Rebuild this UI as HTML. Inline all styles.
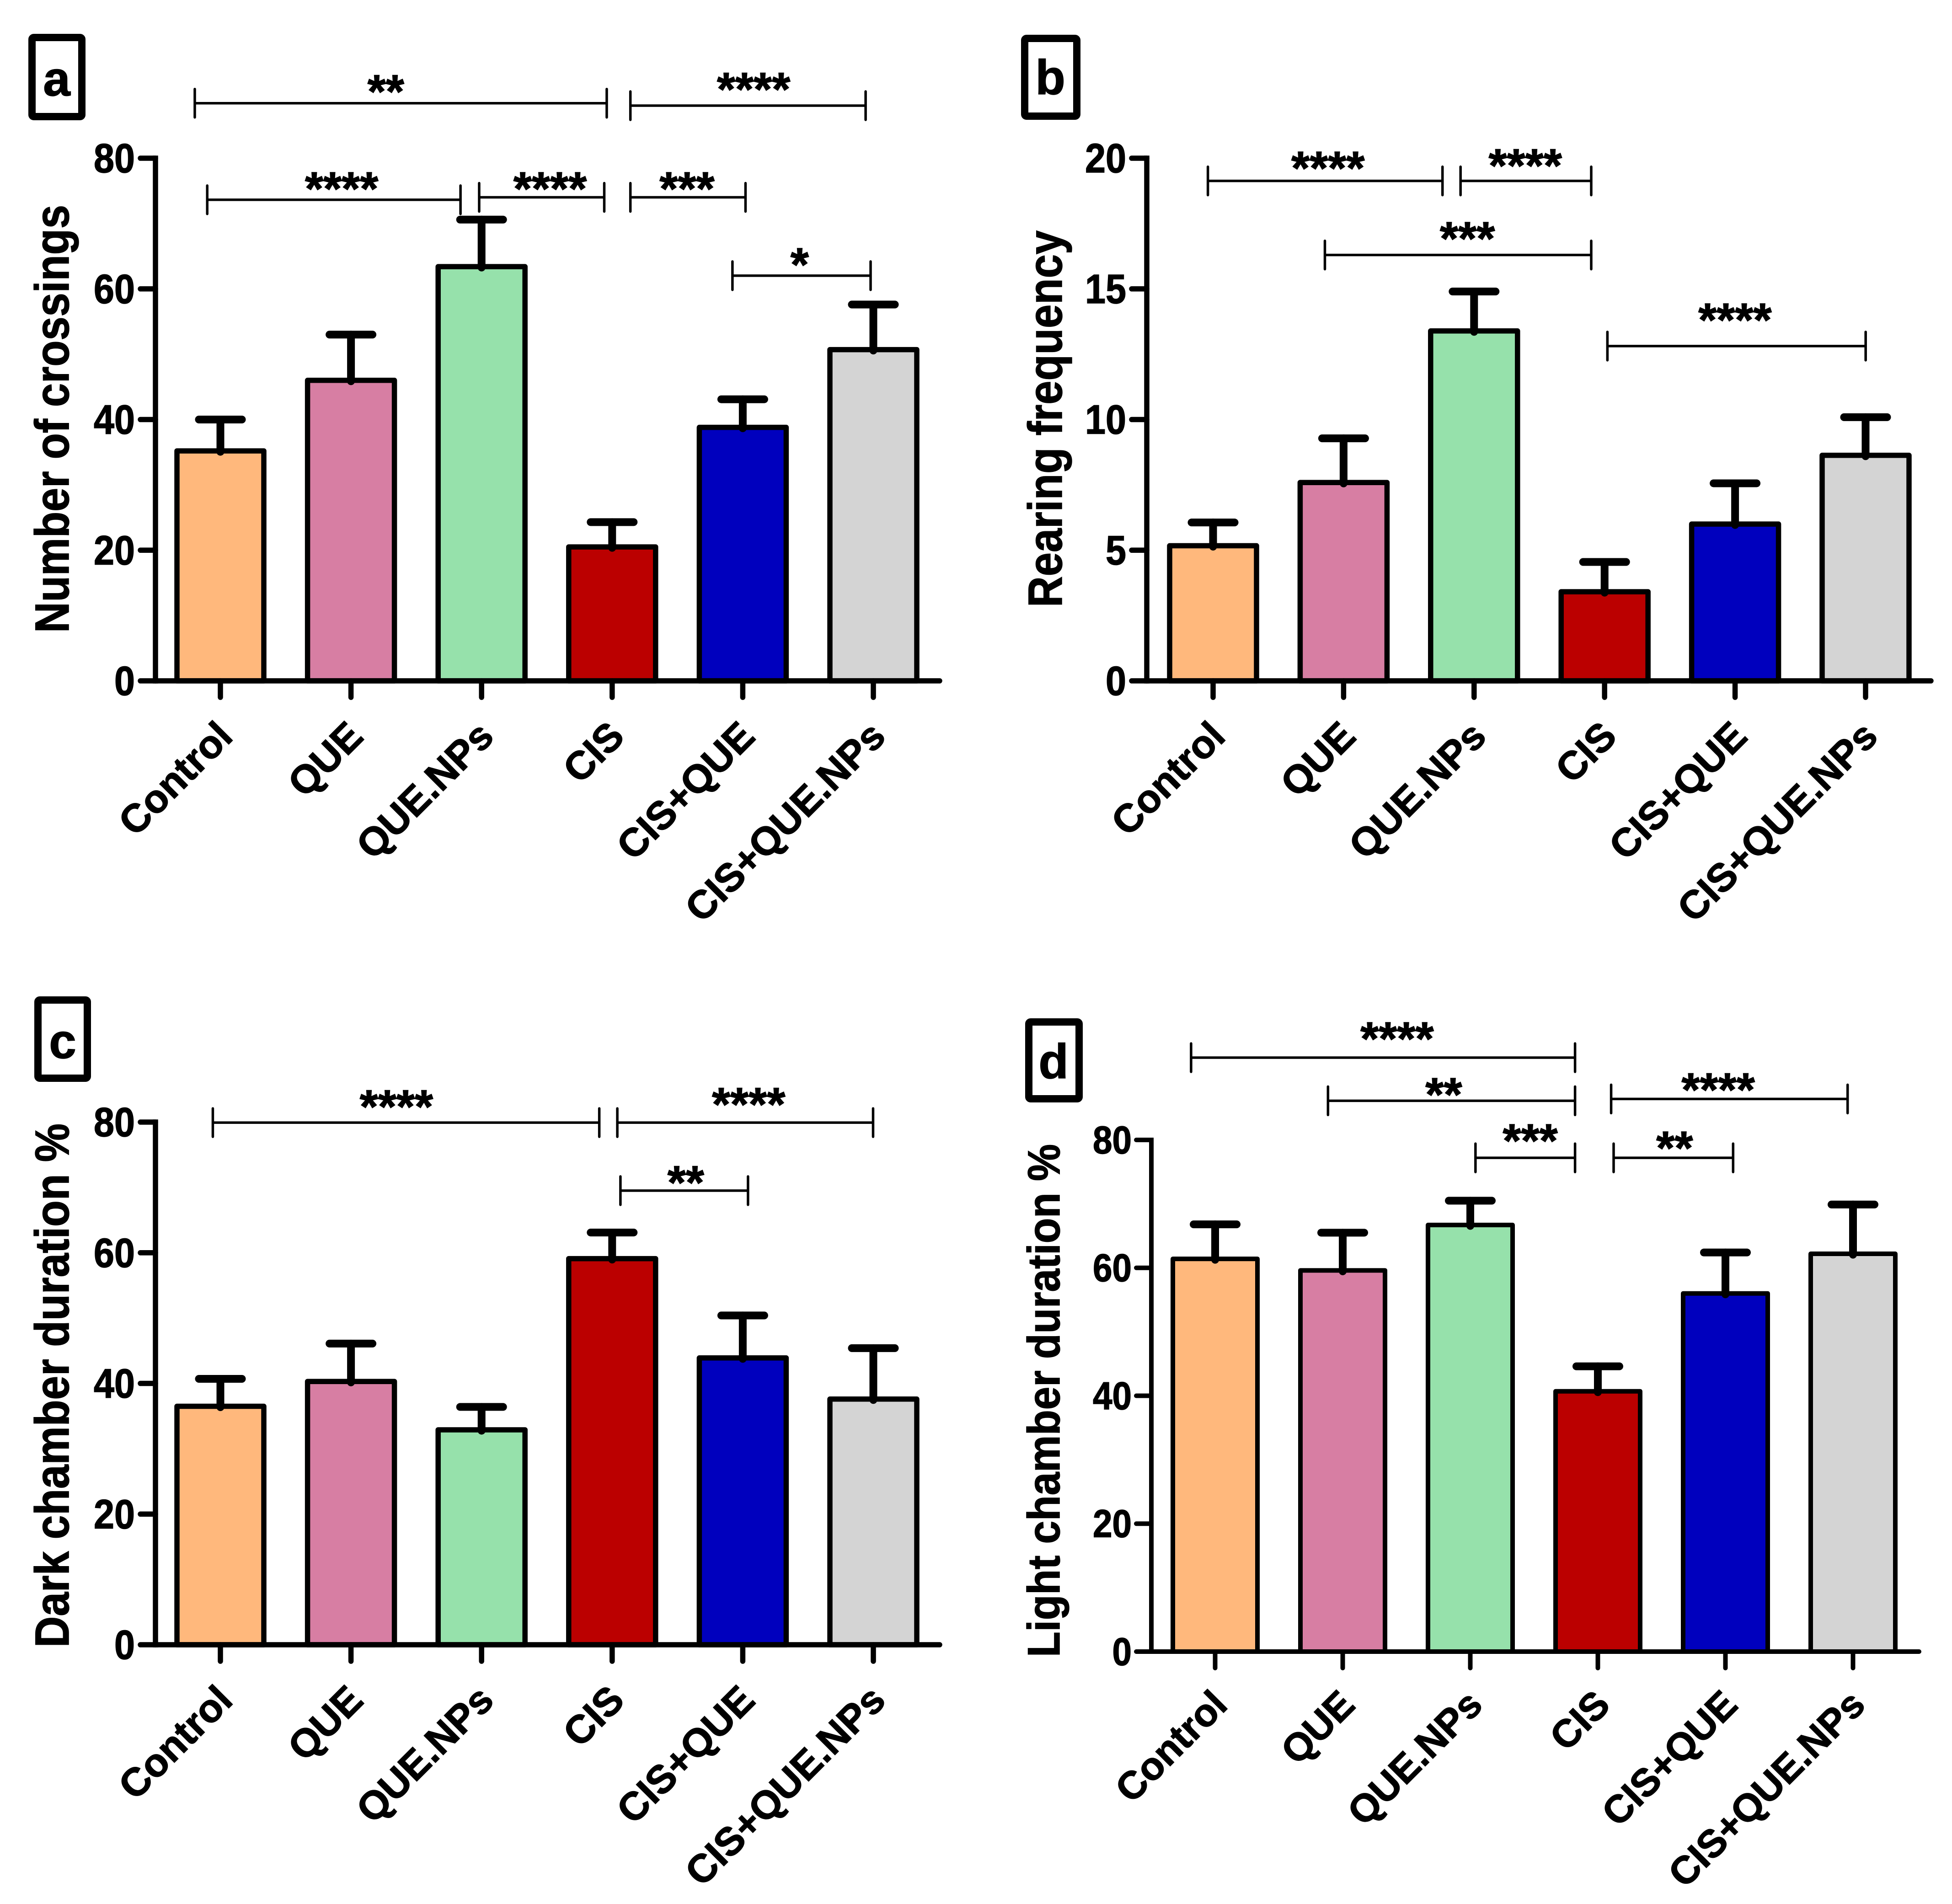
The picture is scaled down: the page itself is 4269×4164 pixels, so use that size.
<!DOCTYPE html>
<html lang="en">
<head>
<meta charset="utf-8">
<title>Behavioural test bar charts</title>
<style>
html,body{margin:0;padding:0;background:#fff;}
#figure{display:block;width:4269px;height:4164px;background:#fff;}
text{font-family:"Liberation Sans",Arial,sans-serif;font-weight:700;fill:#000;stroke:#000;stroke-width:1.5px;}
</style>
</head>
<body>
<svg id="figure" xmlns="http://www.w3.org/2000/svg" width="4269" height="4164" viewBox="0 0 4269 4164"></svg>
<script>
const categories = ['Control','QUE','QUE.NPs','CIS','CIS+QUE','CIS+QUE.NPs'];
const barColors = ['#FFB87C','#D77EA3','#96E1AB','#BB0000','#0000BE','#D4D4D4'];

const crossingsValues = [35.2,46.0,63.4,20.5,38.8,50.7];
const crossingsErrors = [4.8,7.0,7.2,3.8,4.3,6.9];
const crossingsTicks = [0,20,40,60,80];

const rearingValues = [5.17,7.59,13.39,3.41,6.0,8.63];
const rearingErrors = [0.89,1.69,1.51,1.14,1.56,1.46];
const rearingTicks = [0,5,10,15,20];

const darkValues = [36.5,40.3,32.9,59.1,43.9,37.6];
const darkErrors = [4.2,5.8,3.5,4.0,6.5,7.8];
const darkTicks = [0,20,40,60,80];

const lightValues = [61.4,59.6,66.7,40.7,56.0,62.2];
const lightErrors = [5.4,5.9,3.8,3.9,6.4,7.7];
const lightTicks = [0,20,40,60,80];

const NS = 'http://www.w3.org/2000/svg';
const svg = document.getElementById('figure');

function make(parent, tag, attrs, content) {
  const node = document.createElementNS(NS, tag);
  for (const key in attrs) node.setAttribute(key, attrs[key]);
  if (content !== undefined) node.textContent = content;
  parent.appendChild(node);
  return node;
}

function drawPanel(p) {
  const group = make(svg, 'g', {});
  
  

  const maxTick = p.ticks[p.ticks.length - 1];
  const yScale = v => p.yZero - (v / maxTick) * (p.yZero - p.yTop);
  const xScale = i => p.xFirst + i * p.step;

  p.values.forEach((value, i) => {
    const cx = xScale(i);
    const half = p.barWidth / 2;
    const top = yScale(value);
    const bar = make(group, 'rect', {
      x: cx - half, y: top, width: p.barWidth, height: p.yZero - top,
      fill: barColors[i], stroke: '#000', 'stroke-width': p.stroke, 'stroke-linejoin': 'round'
    });
    
    

    const errTop = yScale(value + p.errors[i]);
    const stem = make(group, 'line', {
      x1: cx, x2: cx, y1: errTop, y2: top + 2,
      stroke: '#000', 'stroke-width': 17, 'stroke-linecap': 'round'
    });
    
    

    const cap = make(group, 'line', {
      x1: cx - 47, x2: cx + 47, y1: errTop, y2: errTop,
      stroke: '#000', 'stroke-width': 17, 'stroke-linecap': 'round'
    });
    
    
  });

  const yAxis = make(group, 'line', {
    x1: p.yAxisX, x2: p.yAxisX, y1: p.yTop, y2: p.yZero,
    stroke: '#000', 'stroke-width': p.stroke, 'stroke-linecap': 'square'
  });
  
  

  const xAxis = make(group, 'line', {
    x1: p.yAxisX, x2: p.xAxisEnd, y1: p.yZero, y2: p.yZero,
    stroke: '#000', 'stroke-width': p.stroke, 'stroke-linecap': 'round'
  });
  
  

  p.ticks.forEach(tick => {
    const y = yScale(tick);
    const mark = make(group, 'line', {
      x1: p.yAxisX - 33, x2: p.yAxisX, y1: y, y2: y,
      stroke: '#000', 'stroke-width': p.stroke, 'stroke-linecap': 'round'
    });
    
    

    const label = String(tick);
    const tickText = make(group, 'text', {
      x: p.yAxisX - p.tickGap, y: y + p.tickFont * 0.345, 'text-anchor': 'end',
      'font-size': p.tickFont, textLength: label.length * p.tickFont * 0.5,
      lengthAdjust: 'spacingAndGlyphs'
    }, label);
    
    
  });

  categories.forEach((name, i) => {
    const cx = xScale(i);
    const mark = make(group, 'line', {
      x1: cx, x2: cx, y1: p.yZero, y2: p.yZero + 36,
      stroke: '#000', 'stroke-width': p.stroke, 'stroke-linecap': 'round'
    });
    
    

    const lx = cx + 31;
    const ly = p.yZero + p.labelDrop;
    const catText = make(group, 'text', {
      x: lx, y: ly, 'text-anchor': 'end', 'font-size': p.labelFont,
      transform: 'rotate(-45 ' + lx + ' ' + ly + ')'
    }, name);
    
    
  });

  const titleText = make(group, 'text', {
    x: p.titleX, y: p.titleY, 'text-anchor': 'middle', 'font-size': p.titleFont,
    textLength: p.titleLength, lengthAdjust: 'spacingAndGlyphs',
    transform: 'rotate(-90 ' + p.titleX + ' ' + p.titleY + ')'
  }, p.title);
  
  

  const box = make(group, 'rect', {
    x: p.box[0], y: p.box[1], width: p.box[2], height: p.box[3], rx: 4,
    fill: '#fff', stroke: '#000', 'stroke-width': 16, 'stroke-linejoin': 'round'
  });
  
  

  const letter = make(group, 'text', {
    x: p.letterX, y: p.letterY, 'text-anchor': 'middle', 'font-size': 107
  }, p.letter);
  
  

  return group;
}

/* Significance brackets: positions are taken from a quarter-panel grid of 1568 units. */
function bracket(group, ox, oy, x1, x2, y, stars, sx, sy) {
  const kx = 2134 / 1568, ky = 2082 / 1568;
  const X1 = ox + x1 * kx, X2 = ox + x2 * kx, Y = oy + y * ky;
  const g = make(group, 'g', {});
  
  
  const style = { stroke: '#000', 'stroke-width': 5.5, 'stroke-linecap': 'round', fill: 'none' };
  make(g, 'path', Object.assign({
    d: 'M' + X1 + ' ' + (Y - 31) + 'V' + (Y + 31) + 'M' + X1 + ' ' + Y + 'H' + X2 +
       'M' + X2 + ' ' + (Y - 31) + 'V' + (Y + 31)
  }, style));
  const fs = 103;
  const starText = make(g, 'text', {
    x: ox + sx * kx, y: oy + sy * ky + fs * 0.57 - 9, 'text-anchor': 'middle', 'font-size': fs
  }, stars);
  
  
}

const panelA = drawPanel({
  letter: 'a', title: 'Number of crossings', values: crossingsValues, errors: crossingsErrors, ticks: crossingsTicks,
  yZero: 1489, yTop: 346, yAxisX: 340, xFirst: 482, step: 285.6, xAxisEnd: 2055, barWidth: 190, stroke: 11.5,
  tickFont: 90, tickGap: 45, labelDrop: 126, labelFont: 86.5, titleX: 150, titleY: 916, titleFont: 105, titleLength: 936,
  box: [70, 82, 109, 173], letterX: 124, letterY: 209
});
bracket(panelA, 0, 0, 313, 975, 170, '**', 620, 140);
bracket(panelA, 0, 0, 1013, 1391, 174, '****', 1211, 136);
bracket(panelA, 0, 0, 333, 740, 329, '****', 549, 300);
bracket(panelA, 0, 0, 770, 971, 325, '****', 884, 300);
bracket(panelA, 0, 0, 1013, 1198, 325, '***', 1104, 300);
bracket(panelA, 0, 0, 1177, 1399, 454, '*', 1285, 425);

const panelB = drawPanel({
  letter: 'b', title: 'Rearing frequency', values: rearingValues, errors: rearingErrors, ticks: rearingTicks,
  yZero: 1489, yTop: 346, yAxisX: 2508, xFirst: 2653, step: 285.4, xAxisEnd: 4223, barWidth: 190, stroke: 11.5,
  tickFont: 90, tickGap: 45, labelDrop: 126, labelFont: 86.5, titleX: 2322, titleY: 916, titleFont: 105, titleLength: 824,
  box: [2241, 84, 114, 170], letterX: 2297, letterY: 206
});
bracket(panelB, 2134, 0, 373, 750, 298, '****', 566, 266);
bracket(panelB, 2134, 0, 779, 989, 298, '****', 883, 262);
bracket(panelB, 2134, 0, 561, 989, 420, '***', 790, 382);
bracket(panelB, 2134, 0, 1015, 1430, 570, '****', 1220, 516);

const panelC = drawPanel({
  letter: 'c', title: 'Dark chamber duration %', values: darkValues, errors: darkErrors, ticks: darkTicks,
  yZero: 3597, yTop: 2454, yAxisX: 340, xFirst: 482, step: 285.6, xAxisEnd: 2055, barWidth: 190, stroke: 11.5,
  tickFont: 90, tickGap: 45, labelDrop: 126, labelFont: 86.5, titleX: 150, titleY: 3030, titleFont: 105, titleLength: 1146,
  box: [83, 2187, 108, 171], letterX: 137, letterY: 2314
});
bracket(panelC, 0, 2082, 342, 963, 281, '****', 637, 244);
bracket(panelC, 0, 2082, 992, 1403, 281, '****', 1203, 240);
bracket(panelC, 0, 2082, 997, 1202, 393, '**', 1102, 369);

const panelD = drawPanel({
  letter: 'd', title: 'Light chamber duration %', values: lightValues, errors: lightErrors, ticks: lightTicks,
  yZero: 3612, yTop: 2493, yAxisX: 2518, xFirst: 2657.5, step: 279, xAxisEnd: 4197, barWidth: 185, stroke: 10,
  tickFont: 85, tickGap: 43, labelDrop: 121, labelFont: 85, titleX: 2317, titleY: 3063, titleFont: 99, titleLength: 1122,
  box: [2250, 2235, 110, 168], letterX: 2304, letterY: 2358
});
bracket(panelD, 2134, 2082, 346, 963, 174, '****', 677, 132);
bracket(panelD, 2134, 2082, 566, 963, 245, '**', 752, 224);
bracket(panelD, 2134, 2082, 803, 963, 339, '***', 891, 300);
bracket(panelD, 2134, 2082, 1021, 1401, 242, '****', 1193, 216);
bracket(panelD, 2134, 2082, 1025, 1217, 339, '**', 1123, 312);
</script>
</body>
</html>
